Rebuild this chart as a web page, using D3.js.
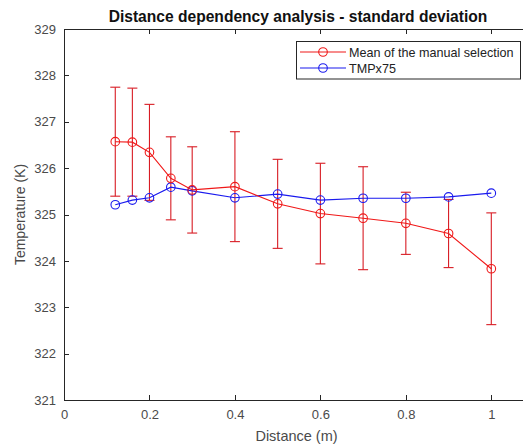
<!DOCTYPE html>
<html><head><meta charset="utf-8">
<script src="https://cdn.jsdelivr.net/npm/d3@7"></script>
<style>body{margin:0;background:#fff}svg{display:block}text{font-family:"Liberation Sans",Arial,sans-serif}</style>
</head><body>
<svg id="c" width="523" height="448"></svg>
<script>
const distances = [0.12, 0.16, 0.2, 0.25, 0.3, 0.4, 0.5, 0.6, 0.7, 0.8, 0.9, 1.0];
const manualMean = [326.57, 326.56, 326.34, 325.78, 325.53, 325.60, 325.23, 325.02, 324.92, 324.81, 324.59, 323.83];
const manualStd  = [1.175, 1.165, 1.035, 0.895, 0.93, 1.185, 0.96, 1.085, 1.11, 0.67, 0.735, 1.205];
const tmpx75     = [325.21, 325.31, 325.36, 325.59, 325.51, 325.36, 325.44, 325.31, 325.35, 325.35, 325.38, 325.46];
const xTicks = [0, 0.2, 0.4, 0.6, 0.8, 1];
const yTicks = [321, 322, 323, 324, 325, 326, 327, 328, 329];
const seriesNames = ["Mean of the manual selection", "TMPx75"];

const svg = d3.select("#c");
const L = 64, T = 29, B = 400;
const x = d3.scaleLinear().domain([0, 1]).range([L, 491.3]);
const xMax = 1.085;
const R = x(xMax);
const y = d3.scaleLinear().domain([321, 329]).range([B, T]);
const axisCol = "#262626", txtCol = "#4a4a4a";
const red = "#f01818", blue = "#1a1aee", errCol = "#d81c24";
const FONT = '"Liberation Sans",Arial,sans-serif';

// box
svg.append("path").attr("d", `M${R},${T}H${L}V${B}H${R}`)
  .attr("fill", "none").attr("stroke", axisCol).attr("stroke-width", 1).attr("shape-rendering", "crispEdges");

// axes with inward ticks
const gx = svg.append("g").attr("transform", `translate(0,${B})`)
  .call(d3.axisBottom(x).tickValues(xTicks).tickFormat(d3.format("")).tickSizeInner(-5).tickSizeOuter(0).tickPadding(10));
const gxt = svg.append("g").attr("transform", `translate(0,${T})`)
  .call(d3.axisTop(x).tickValues(xTicks).tickFormat("").tickSizeInner(-5).tickSizeOuter(0));
const gy = svg.append("g").attr("transform", `translate(${L},0)`)
  .call(d3.axisLeft(y).tickValues(yTicks).tickFormat(d3.format("d")).tickSizeInner(-5).tickSizeOuter(0).tickPadding(8));
const gyr = svg.append("g").attr("transform", `translate(${R},0)`)
  .call(d3.axisRight(y).tickValues(yTicks).tickFormat("").tickSizeInner(-5).tickSizeOuter(0));
[gx, gxt, gy, gyr].forEach(g => {
  g.select(".domain").remove();
  g.selectAll("line").attr("stroke", axisCol).attr("shape-rendering", "crispEdges");
  g.selectAll("text").attr("fill", txtCol).attr("font-size", 13).style("font-family", FONT);
});

// error bars
const eb = svg.append("g").attr("stroke", errCol).attr("stroke-width", 1.1).attr("fill", "none");
distances.forEach((d, i) => {
  const cx = x(d), y1 = y(manualMean[i] + manualStd[i]), y2 = y(manualMean[i] - manualStd[i]);
  eb.append("line").attr("x1", cx).attr("x2", cx).attr("y1", y1).attr("y2", y2);
  eb.append("line").attr("x1", cx - 5).attr("x2", cx + 5).attr("y1", y1).attr("y2", y1);
  eb.append("line").attr("x1", cx - 5).attr("x2", cx + 5).attr("y1", y2).attr("y2", y2);
});

function series(vals, col) {
  const line = d3.line().x((d, i) => x(distances[i])).y(d => y(d));
  svg.append("path").datum(vals).attr("d", line).attr("fill", "none").attr("stroke", col).attr("stroke-width", 1.1);
  svg.append("g").selectAll("circle").data(vals).join("circle")
    .attr("cx", (d, i) => x(distances[i])).attr("cy", d => y(d)).attr("r", 4.3)
    .attr("fill", "none").attr("stroke", col).attr("stroke-width", 1.1);
}
series(tmpx75, blue);
series(manualMean, red);

// title & labels
svg.append("text").attr("x", 298).attr("y", 22).attr("text-anchor", "middle")
  .attr("font-weight", "bold").attr("font-size", 15.6).attr("fill", "#111")
  .text("Distance dependency analysis - standard deviation");
svg.append("text").attr("x", 296.5).attr("y", 441).attr("text-anchor", "middle")
  .attr("font-size", 14.5).attr("fill", txtCol).text("Distance (m)");
svg.append("text").attr("transform", `translate(25,${(T + B) / 2}) rotate(-90)`).attr("text-anchor", "middle")
  .attr("font-size", 14).attr("fill", txtCol).text("Temperature (K)");

// legend
const lg = svg.append("g");
lg.append("rect").attr("x", 296.5).attr("y", 41.5).attr("width", 224).attr("height", 37.5)
  .attr("fill", "#fff").attr("stroke", axisCol).attr("stroke-width", 1);
[[red, 52], [blue, 68]].forEach(([col, yy], i) => {
  lg.append("line").attr("x1", 300).attr("x2", 346).attr("y1", yy).attr("y2", yy).attr("stroke", col).attr("stroke-width", 1.1);
  lg.append("circle").attr("cx", 323).attr("cy", yy).attr("r", 4.3).attr("fill", "none").attr("stroke", col).attr("stroke-width", 1.1);
  lg.append("text").attr("x", 349).attr("y", yy + 4.5).attr("font-size", 12.6).attr("fill", "#222").text(seriesNames[i]);
});
</script>
</body></html>
